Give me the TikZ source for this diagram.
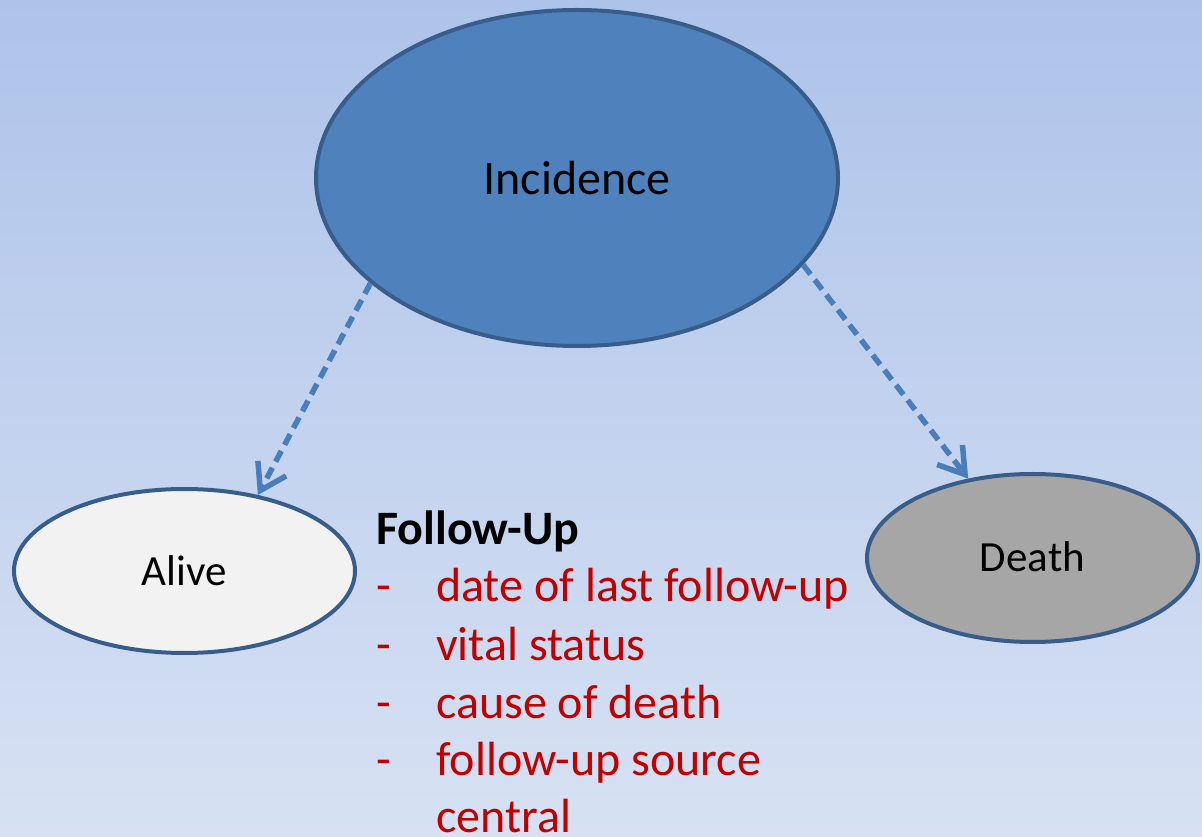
\documentclass[tikz,border=0pt]{standalone}
\usepackage{fontspec}
\setmainfont{Carlito}
\usetikzlibrary{shapes.geometric,arrows.meta}
\definecolor{bgtop}{RGB}{174,195,234}
\definecolor{bgbot}{RGB}{215,225,243}
\definecolor{incfill}{RGB}{79,129,189}
\definecolor{edgeblue}{RGB}{56,93,138}
\definecolor{arrowblue}{RGB}{74,126,187}
\definecolor{alivefill}{RGB}{242,242,242}
\definecolor{deathfill}{RGB}{166,166,166}
\definecolor{itemred}{RGB}{192,0,0}
\tikzset{
  oval/.style={ellipse, draw=edgeblue, line width=4pt, inner sep=0pt},
  flowarrow/.style={draw=arrowblue, line width=5.5pt, dash pattern=on 12pt off 7pt,
    -{Straight Barb[length=25pt, width=32pt, line width=5.5pt]}},
  listtxt/.style={anchor=base west, inner sep=0pt, text=itemred, font=\fontsize{48}{58}\selectfont},
}
\begin{document}
\begin{tikzpicture}[x=1pt,y=1pt]
\shade[top color=bgtop, bottom color=bgbot] (0,0) rectangle (1202,836);
\useasboundingbox (0,0) rectangle (1202,836);
\node[oval, fill=incfill, minimum width=522pt, minimum height=336pt,
  font=\fontsize{48}{58}\selectfont] (inc) at (577,658) {Incidence};
\node[oval, fill=alivefill, minimum width=341pt, minimum height=164pt,
  font=\fontsize{43}{52}\selectfont] (alive) at (184.5,265) {Alive};
\node[oval, fill=deathfill, minimum width=331pt, minimum height=168pt,
  font=\fontsize{43}{52}\selectfont] (death) at (1032.5,278) {\raisebox{3pt}{Death}};
\draw[flowarrow] (inc.207) -- (alive.46);
\draw[flowarrow] (inc.339) -- (death.129);
\node[anchor=base west, inner sep=0pt, font=\bfseries\fontsize{48}{58}\selectfont] (fu) at (376,291) {Follow-Up};
\node[listtxt] (d1) at (376,234) {-};
\node[listtxt] (t1) at (436,234) {date of last follow-up};
\node[listtxt] (d2) at (376,176) {-};
\node[listtxt] (t2) at (436,176) {vital status};
\node[listtxt] (d3) at (376,118) {-};
\node[listtxt] (t3) at (436,118) {cause of death};
\node[listtxt] (d4) at (376,61) {-};
\node[listtxt] (t4) at (436,61) {follow-up source};
\node[listtxt] (t5) at (436,4) {central};
\end{tikzpicture}
\end{document}
